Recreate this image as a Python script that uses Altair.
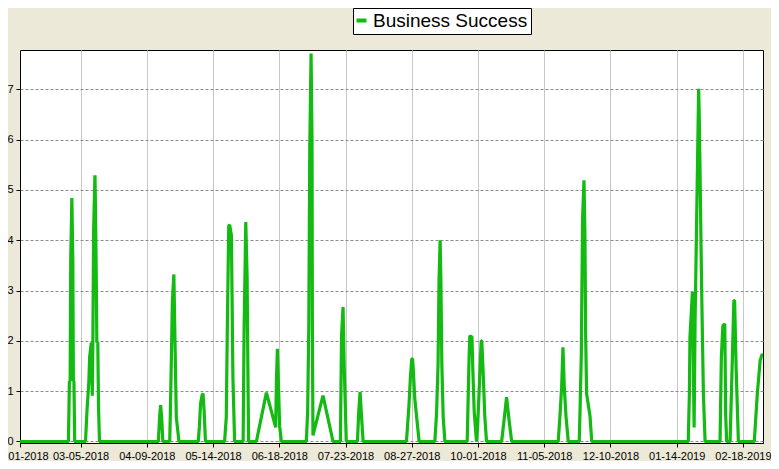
import altair as alt
import pandas as pd

START_DATE = "2018-02-01"
TICK_LABELS = ["02-01-2018", "03-05-2018", "04-09-2018", "05-14-2018", "06-18-2018",
               "07-23-2018", "08-27-2018", "10-01-2018", "11-05-2018", "12-10-2018",
               "01-14-2019", "02-18-2019"]
X_END_DAY = 392.6
Y_TICKS = [0, 1, 2, 3, 4, 5, 6, 7]
SERIES = "Business Success"

# days since 2018-02-01 and values
DAYS = [0,
        25.6, 26.1, 26.5, 26.8, 27.4, 27.9, 28.2, 28.5, 28.9,
        34.6, 35.5, 36.4, 36.8, 37.7, 38.2, 38.5, 38.9, 39.6, 39.9, 40.3, 40.6, 41.1, 41.5, 42.0,
        73.1, 73.8, 74.3, 74.8, 75.5,
        79.1, 79.4, 80.0, 80.5, 81.3, 82.1, 82.6, 84.0,
        94.2, 94.8, 95.4, 96.2, 96.7, 97.3, 98.0,
        108.1, 109.0, 109.6, 110.3, 110.8, 111.7, 112.0, 112.5, 113.4,
        117.9, 118.4, 119.3, 120.0, 120.5, 120.8,
        124.9, 130.2, 135.1, 135.5, 136.0, 136.5, 137.2, 138.1,
        151.3, 152.0, 152.6, 153.1, 153.8, 154.3, 154.5, 154.8, 160.1, 165.4,
        169.3, 169.9, 170.7, 171.3, 171.9, 172.4,
        178.3, 179.0, 179.7, 180.3, 181.3,
        204.2, 205.5, 206.3, 207.0, 207.4, 207.7, 208.6, 210.9,
        219.2, 220.1, 220.9, 221.4, 222.0, 222.4, 222.9, 223.6, 224.5,
        236.3, 237.3, 237.7, 238.8, 239.3, 240.0, 241.2,
        241.8, 242.6, 243.7, 244.0, 244.7, 245.6, 246.5,
        254.5, 255.7, 257.1, 258.5, 259.8,
        284.4, 285.3, 286.2, 286.9, 287.6, 288.5, 289.7,
        295.5, 295.9, 296.6, 296.9, 297.3, 298.0, 298.5, 298.9, 299.4, 301.2, 302.1,
        353.1, 353.7, 354.0, 355.3, 356.2, 356.7, 357.4, 358.6, 358.9, 359.3, 360.2, 361.1, 362.0,
        369.9, 370.6, 371.4, 372.4, 372.9, 373.4,
        375.2, 376.1, 377.2, 377.6, 378.4, 379.6,
        388.0, 389.6, 391.1, 392.2, 392.6]

VALUES = [0,
          0, 1.2, 1.2, 3.6, 4.84, 3.6, 1.2, 1.2, 0,
          0, 0.68, 1.2, 1.68, 1.97, 0.91, 1.97, 4.2, 5.29, 4.6, 3.27, 1.97, 1.97, 0.68, 0,
          0, 0.5, 0.72, 0.5, 0,
          0, 0.48, 1.68, 2.77, 3.32, 1.54, 0.48, 0,
          0, 0.3, 0.75, 0.92, 0.95, 0.6, 0,
          0, 0.48, 2.4, 4.29, 4.3, 4.1, 3.07, 1.28, 0,
          0, 2.17, 4.36, 3.27, 1.08, 0,
          0, 0.97, 0.28, 1.2, 1.84, 1.2, 0.3, 0,
          0, 0.6, 2.3, 5.79, 7.71, 5.98, 2.2, 0.12, 0.91, 0,
          0, 2.1, 2.67, 1.5, 0.7, 0,
          0, 0.6, 0.98, 0.6, 0,
          0, 0.7, 1.28, 1.64, 1.64, 1.5, 0.85, 0,
          0, 0.55, 1.54, 3.17, 4.0, 3.2, 1.54, 0.5, 0,
          0, 1.68, 2.1, 2.08, 1.4, 0.6, 0,
          0.3, 1.0, 2.0, 2.0, 1.4, 0.5, 0,
          0, 0.4, 0.88, 0.4, 0,
          0, 0.5, 1.08, 1.87, 1.08, 0.5, 0,
          0, 0.58, 1.74, 3.0, 4.46, 5.19, 4.13, 2.07, 0.95, 0.5, 0,
          0, 0.95, 2.07, 2.97, 0.28, 2.36, 4.06, 7.01, 6.5, 5.45, 2.97, 0.95, 0,
          0, 1.68, 2.3, 2.34, 0.5, 0,
          0, 1.21, 2.8, 2.8, 1.45, 0,
          0, 0.95, 1.61, 1.74, 1.7]

start = pd.Timestamp(START_DATE)
tick_days = [int((pd.to_datetime(t, format="%m-%d-%Y") - start).days) for t in TICK_LABELS]
label_expr = (f"utcFormat(utc({start.year},{start.month - 1},{start.day}) + datum.value*86400000, '%m-%d-%Y')")

df = pd.DataFrame({"day": DAYS, "value": VALUES, "series": SERIES})

FONT = "Liberation Sans"
GREEN = "#12BA12"

line = alt.Chart(df).mark_line(strokeWidth=3.2, strokeJoin="bevel", clip=True).encode(
    x=alt.X("day:Q",
            scale=alt.Scale(domain=[0, X_END_DAY], nice=False, zero=False),
            axis=alt.Axis(values=tick_days, labelExpr=label_expr, title=None,
                          grid=True, gridColor="#C8C8C8", gridWidth=1,
                          domainColor="black", tickColor="black", tickSize=4,
                          labelPadding=3, labelFont=FONT, labelFontSize=11,
                          labelColor="black", labelOverlap=False, labelFlush=False,
                          labelBound=False)),
    y=alt.Y("value:Q",
            scale=alt.Scale(domain=[-0.03, 7.78], nice=False, zero=False),
            axis=alt.Axis(values=Y_TICKS, format="d", title=None,
                          grid=True, gridColor="#8C8C8C", gridDash=[3, 2], gridWidth=1,
                          domainColor="black", tickColor="black", tickSize=4,
                          labelPadding=3, labelFont=FONT, labelFontSize=11,
                          labelColor="black")),
    color=alt.Color("series:N", scale=alt.Scale(range=[GREEN]),
                    legend=alt.Legend(orient="none", legendX=333, legendY=-42,
                                      title=None, fillColor="white", strokeColor="black",
                                      padding=3, cornerRadius=0,
                                      symbolType="stroke", symbolStrokeWidth=4,
                                      symbolSize=100, symbolOffset=-4, labelOffset=2,
                                      labelFont=FONT, labelFontSize=19,
                                      labelColor="black")),
)

chart = line.properties(
    width=743, height=393,
    autosize=alt.AutoSizeParams(type="none"),
    padding={"left": 12, "top": 42, "right": 8, "bottom": 18},
    background="#ECE9D8",
).configure_view(fill="white", stroke="black", strokeWidth=1)

chart.save("out.html", embed_options={"renderer": "svg", "actions": False})
